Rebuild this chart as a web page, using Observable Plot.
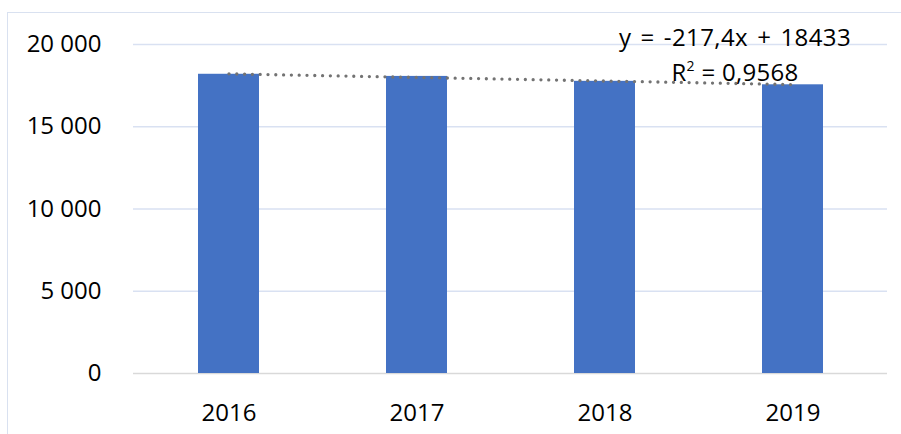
<!DOCTYPE html>
<html>
<head>
<meta charset="utf-8">
<script src="https://cdn.jsdelivr.net/npm/d3@7"></script>
<script src="https://cdn.jsdelivr.net/npm/@observablehq/plot@0.6"></script>
<style>
  html, body { margin: 0; padding: 0; background: #fff; }
  #wrap { position: relative; width: 901px; height: 434px; overflow: hidden; }
  #frame { position: absolute; left: 7px; top: 12px; width: 900px; height: 440px;
           border: 1.5px solid #d9e1f0; box-sizing: border-box; }
  #chart { position: absolute; left: 0; top: 0; }
  .eq { position: absolute; font-family: "Open Sans", sans-serif; font-size: 24px;
        color: #000; white-space: nowrap; transform: translateX(-50%); line-height: 1; }
</style>
</head>
<body>
<div id="wrap">
  <div id="frame"></div>
  <div id="chart"></div>
</div>
<script>
const years = ["2016", "2017", "2018", "2019"];
const values = [18190, 18060, 17760, 17550];
const trendYears = ["2016", "2019"];
const trendValues = [18215, 17563];
const yTicks = [0, 5000, 10000, 15000, 20000];
const eqLine1 = "y = -217,4x + 18433";
const eqLine2Pre = "R";
const eqLine2Post = " = 0,9568";

const data = years.map((y, i) => ({year: y, value: values[i]}));
const trend = trendYears.map((y, i) => ({year: y, value: trendValues[i]}));

const loc = d3.formatLocale({decimal: ",", thousands: "\u00a0", grouping: [3], currency: ["", ""]});
const fmt = loc.format(",d");

const plot = Plot.plot({
  width: 901,
  height: 434,
  marginLeft: 133,
  marginRight: 14,
  marginTop: 44,
  marginBottom: 61,
  style: {fontFamily: "'Open Sans', sans-serif", fontSize: "24px", color: "#000", background: "transparent"},
  x: {domain: years, paddingInner: 0.676, paddingOuter: 0.338, label: null},
  y: {domain: [0, 20000], label: null},
  marks: [
    Plot.gridY(yTicks.filter(d => d > 0), {stroke: "#d9e1f2", strokeOpacity: 1, strokeWidth: 1.5}),
    Plot.ruleY([0], {stroke: "#d9d9d9", strokeWidth: 1.5}),
    Plot.barY(data, {x: "year", y: "value", fill: "#4472c4"}),
    Plot.line(trend, {x: "year", y: "value", stroke: "#737373", strokeWidth: 3.3,
      strokeDasharray: "0 7.8", strokeLinecap: "round"}),
    Plot.axisY({ticks: yTicks, tickFormat: fmt, tickSize: 0, tickPadding: 32, fill: "#000", fontSize: 24}),
    Plot.axisX({tickSize: 0, tickPadding: 30, fill: "#000", fontSize: 24})
  ]
});
document.getElementById("chart").appendChild(plot);

const wrap = document.getElementById("wrap");
const e1 = document.createElement("div");
e1.className = "eq";
e1.style.left = "735px";
e1.style.top = "25px";
e1.style.letterSpacing = "0.4px";
e1.style.wordSpacing = "2.5px";
e1.textContent = eqLine1;
wrap.appendChild(e1);
const e2 = document.createElement("div");
e2.className = "eq";
e2.style.left = "735px";
e2.style.top = "59px";
e2.style.letterSpacing = "0.3px";
e2.innerHTML = eqLine2Pre + "<sup style='font-size:14px;vertical-align:10px'>2</sup>" + eqLine2Post;
wrap.appendChild(e2);
</script>
</body>
</html>
